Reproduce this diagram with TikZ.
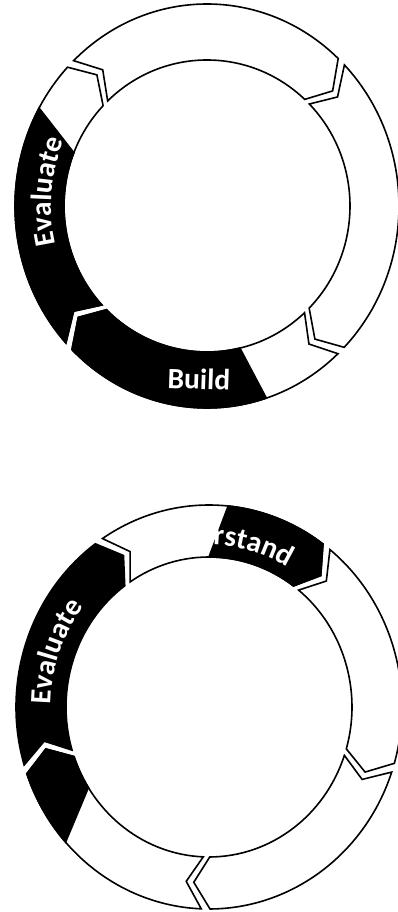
\documentclass[tikz,border=0pt]{standalone}
\usepackage{fontspec}
\newfontfamily\segfont{Carlito}
\usetikzlibrary{decorations.text}
\newcommand{\labfont}{\segfont\bfseries\fontsize{29.5}{31}\selectfont\color{white}}
\newcommand{\PO}[1]{(canvas polar cs:angle={#1}, x radius=\rxo, y radius=\ryo)}
\newcommand{\PI}[1]{(canvas polar cs:angle={#1}, x radius=\rxi, y radius=\ryi)}
\newcommand{\PM}[1]{(canvas polar cs:angle={#1}, x radius=\rxm, y radius=\rym)}
% a ring segment: #1 start angle (notch), #2 end angle (arrow tip), clockwise
\newcommand{\ringseg}[2]{\PO{#1} arc[start angle=#1, end angle=#2, x radius=\rxo, y radius=\ryo] -- \PM{#2-\dl} -- \PI{#2} arc[start angle=#2, end angle=#1, x radius=\rxi, y radius=\ryi] -- \PM{#1-\dl} -- cycle}
% dark part from a slanted line (#1 outer angle, #2 inner angle) to the tip at #3
\newcommand{\blackend}[3]{\PO{#1} arc[start angle=#1, end angle=#3, x radius=\rxo, y radius=\ryo] -- \PM{#3-\dl} -- \PI{#3} arc[start angle=#3, end angle=#2, x radius=\rxi, y radius=\ryi] -- cycle}
% dark part from the notch at #1 to a slanted line (#2 outer angle, #3 inner angle)
\newcommand{\blackstart}[3]{\PO{#2} arc[start angle=#2, end angle=#1, x radius=\rxo, y radius=\ryo] -- \PM{#1-\dl} -- \PI{#1} arc[start angle=#1, end angle=#3, x radius=\rxi, y radius=\ryi] -- cycle}
\begin{document}
\begin{tikzpicture}[x=1pt,y=1pt,
  seg/.style={fill=white, draw=black, line width=1.6pt, line join=miter},
  hl/.style={fill=black, draw=black, line width=1.6pt, line join=miter}]
\useasboundingbox (0,0) rectangle (398,912);
\fill[white] (0,0) rectangle (398,912);
% ---------------- top ring ----------------
\begin{scope}[shift={(207,706)}]
  \def\rxo{192pt}\def\ryo{202pt}\def\rxi{143pt}\def\ryi{146pt}
  \def\rxm{167.5pt}\def\rym{174pt}\def\dl{5.5}
  \draw[seg] \ringseg{134}{46.9};
  \draw[seg] \ringseg{44.3}{-44.4};
  \draw[seg] \ringseg{-47}{-134.7};
  \draw[seg] \ringseg{222.7}{136.6};
  \path[hl] \blackend{-72}{-76.7}{-134.7};
  \path[hl] \blackstart{222.7}{151}{158.6};
  \path[decorate, decoration={text along path, text align=center,
      text={|\labfont|Evaluate}}]
    (canvas polar cs:angle=215, x radius=156pt, y radius=163pt) arc[start angle=215, end angle=135, x radius=156pt, y radius=163pt];
  \node[font=\segfont\bfseries\fontsize{29.5}{31}\selectfont, text=white, rotate=-2, inner sep=0pt] (build) at (-8,-173) {Build};
\end{scope}
% ---------------- bottom ring ----------------
\begin{scope}[shift={(209,205)}]
  \def\rxo{193pt}\def\ryo{202pt}\def\rxi{143pt}\def\ryi{150pt}
  \def\rxm{168pt}\def\rym{176pt}\def\dl{5.5}
  \draw[seg] \ringseg{123.5}{53.8};
  \draw[seg] \ringseg{51.2}{-16.2};
  \draw[seg] \ringseg{-18.8}{-89.7};
  \draw[seg] \ringseg{-92.3}{-160.7};
  \path[hl] \ringseg{196.7}{126.1};
  \path[hl] \blackend{-138}{-147.5}{-160.7};
  \path[hl] \blackend{84.3}{90}{53.8};
  \path[decorate, decoration={text along path, text align=center,
      text={|\labfont|Evaluate}}]
    (canvas polar cs:angle=200, x radius=158pt, y radius=164pt) arc[start angle=200, end angle=121, x radius=158pt, y radius=164pt];
  \path[decorate, decoration={text along path, text align=left,
      text={|\labfont|rstand}}]
    (canvas polar cs:angle=88.5, x radius=156pt, y radius=162pt) arc[start angle=88.5, end angle=30, x radius=156pt, y radius=162pt];
\end{scope}
\end{tikzpicture}
\end{document}
